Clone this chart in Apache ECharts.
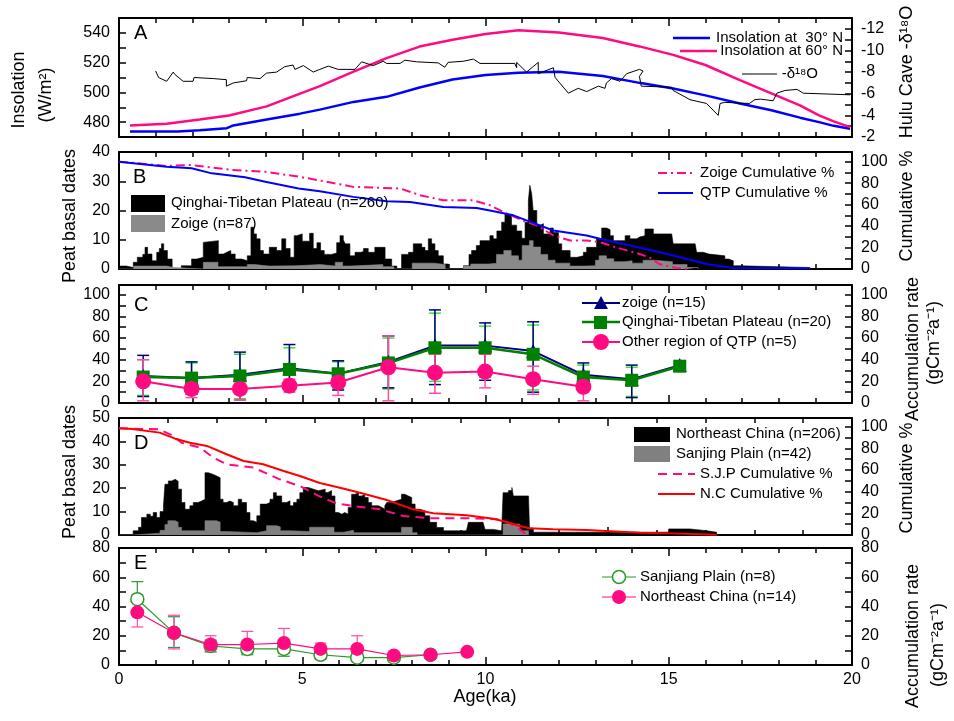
<!DOCTYPE html>
<html><head><meta charset="utf-8">
<script src="https://cdn.jsdelivr.net/npm/echarts/dist/echarts.min.js"></script>
<style>html,body{margin:0;padding:0;background:#fff}#c{width:954px;height:721px}</style>
</head><body><div id="c"></div>
<script>
// ---------------- DATA ----------------
// Panel A: insolation (W/m2) and Hulu cave -d18O
const insol30N = [[0.3,473.7],[1.6,473.7],[2.2,474.5],[2.94,475.9],[3.12,477.8],[4.03,481.8],[4.94,485.7],[5.48,488.4],[6.4,493.6],[7.3,497],[8.2,503.3],[9.1,508.7],[10.0,511.7],[10.9,513.2],[12.0,513.9],[13.2,511],[14.2,506.4],[15.12,502.6],[16.0,498],[16.94,492.5],[17.8,488],[18.58,483],[19.1,480],[19.5,477.5],[19.95,475.5]];
const insol60N = [[0.3,477.8],[1.3,478.9],[2.2,481.8],[3.0,484.5],[4.03,490.6],[4.94,499.2],[5.48,504.2],[6.4,513.9],[7.3,523],[8.2,530.8],[9.1,535.4],[10.0,539.2],[10.9,541.7],[12.0,540.3],[13.2,536.5],[14.2,530.9],[15.12,525.2],[16.0,518.4],[16.94,508.3],[17.8,499.3],[18.58,491.3],[19.1,484.5],[19.5,480.5],[19.95,476.6]];
const huluD18O = [[1.0,-8.1],[1.08,-7.5],[1.3,-7.15],[1.48,-8.0],[1.52,-7.8],[1.75,-7.15],[2.02,-7.15],[2.05,-7.5],[2.57,-7.4],[2.93,-7.3],[2.93,-6.7],[3.12,-7.0],[3.48,-7.2],[3.5,-7.5],[3.85,-7.4],[4.02,-7.9],[4.3,-8.0],[4.52,-8.5],[4.75,-8.65],[4.8,-8.25],[5.03,-8.6],[5.3,-8.0],[5.48,-8.25],[5.71,-8.55],[5.98,-8.25],[6.44,-8.25],[6.62,-8.95],[6.94,-8.6],[7.21,-9.0],[7.3,-8.8],[7.67,-8.8],[7.8,-9.1],[8.12,-8.95],[8.12,-8.8],[8.71,-8.85],[8.89,-8.45],[8.98,-8.9],[9.39,-9.0],[9.67,-9.2],[9.85,-8.8],[10.8,-8.8],[10.85,-8.4],[10.85,-8.9],[11.12,-8.0],[11.44,-8.9],[11.44,-7.85],[11.85,-8.4],[11.9,-7.5],[12.26,-6.05],[12.53,-6.5],[12.76,-6.2],[13.08,-6.7],[13.26,-6.5],[13.3,-7.0],[13.44,-7.4],[13.67,-7.15],[13.85,-7.85],[14.2,-8.25],[14.3,-8.1],[14.2,-7.6],[14.25,-6.7],[15.08,-6.6],[15.12,-6.3],[15.58,-5.45],[16.03,-5.1],[16.35,-4.0],[16.4,-5.1],[16.53,-5.2],[17.2,-5.1],[17.35,-5.45],[17.5,-5.5],[17.85,-5.35],[17.95,-6.05],[18.17,-6.3],[18.5,-6.4],[18.67,-6.05],[19.95,-5.9]];

// Panel B: peat basal dates (counts) and cumulative %
const qtpDates = [[0,1],[0.2,0.5],[0.39,2.3],[0.5,4],[0.65,5],[0.71,7.4],[0.78,5.1],[0.9,2.8],[1.03,5.7],[1.1,7],[1.16,8.6],[1.22,6.3],[1.32,3.4],[1.45,0],[1.7,1.1],[1.98,3.4],[2.12,4],[2.3,9.1],[2.35,9.7],[2.71,5.1],[2.85,5.7],[2.94,6.3],[3.05,5.1],[3.17,3.4],[3.35,2.8],[3.5,4.5],[3.6,14.3],[3.68,12],[3.75,10.3],[3.85,6.3],[3.94,5.1],[4.1,7.4],[4.3,6.3],[4.44,10.3],[4.55,7],[4.67,4],[4.78,11.4],[4.85,12],[5.0,9.5],[5.2,12.2],[5.3,7],[5.4,9],[5.5,6.3],[5.6,5],[5.8,5.5],[5.94,9],[6.03,11.4],[6.12,10],[6.17,8.6],[6.3,4.5],[6.44,5.7],[6.6,6],[6.67,7],[6.8,5.7],[6.98,7.4],[7.17,7.4],[7.26,3.4],[7.44,1],[7.58,0],[7.71,5],[7.9,5.7],[8.03,8.6],[8.17,8.6],[8.26,7.4],[8.35,6.3],[8.44,10.3],[8.53,8.6],[8.62,6.3],[8.71,4.5],[8.85,1.7],[8.99,0],[9.4,1.1],[9.55,5],[9.62,6.3],[9.75,8],[9.85,9.7],[10.12,11.4],[10.21,10.3],[10.31,13],[10.44,16],[10.53,18.9],[10.58,18.3],[10.71,15],[10.85,13],[10.99,10.5],[11.08,16],[11.17,23.4],[11.21,28.6],[11.26,25.7],[11.3,20],[11.4,15],[11.49,15.5],[11.58,12],[11.76,14],[11.85,12.5],[11.99,8.6],[12.08,6.3],[12.31,4],[12.5,4.5],[12.67,5.7],[12.76,7.4],[13.03,10.3],[13.17,14],[13.31,13.4],[13.4,11.4],[13.49,9.7],[13.67,9.7],[13.81,11.4],[13.94,10.3],[14.13,10.9],[14.2,11.4],[14.35,13.7],[14.58,12],[15.08,12.5],[15.12,8.6],[15.72,8.6],[15.76,5.7],[15.94,5.1],[16.1,4.5],[16.53,3.4],[16.63,2.8],[16.76,1.1],[16.94,0.5],[18.85,0.5],[18.86,0]];
const zoigeDates = [[0,0],[0.4,1],[1.3,0.5],[1.5,0],[2.3,2.3],[2.7,0.8],[3.5,1.5],[3.7,1],[4.1,1.1],[4.8,1.5],[5.5,1],[5.9,2.3],[6.1,1],[6.3,1.5],[7.2,0.8],[7.5,0],[8.0,2],[8.6,1.5],[8.9,0],[9.4,1],[9.6,1.7],[10.1,2],[10.3,5],[10.5,6.3],[10.7,4.5],[10.9,3],[11.0,8],[11.2,9.7],[11.3,7.5],[11.5,5],[11.7,3],[11.9,2],[12.3,1],[12.7,1.1],[13.0,3],[13.1,4.5],[13.3,3.5],[13.5,2.5],[13.8,2.8],[14.0,2],[14.3,3],[14.6,2.5],[15.1,1.5],[15.5,0.5],[15.8,0]];
const qtpCum = [[0,100],[1.3,95.3],[1.98,93.8],[2.53,89.1],[3.44,85.4],[3.99,81.3],[4.9,75],[5.48,72.5],[6.39,67.2],[7.3,63.1],[7.94,62.5],[8.85,57.8],[9.76,56.9],[10.12,54.5],[10.76,50],[11.12,45.3],[11.85,35.9],[12.76,31.2],[13.12,28.1],[14.2,20],[15.12,12.5],[16.03,4.7],[16.76,0.9],[18.85,0.6]];
const zoigeCum = [[0,100],[1.3,96],[1.98,96.9],[3.08,92.2],[3.99,90.6],[4.9,86],[5.48,82.5],[6.39,76.5],[7.67,75],[8.21,68.8],[8.85,64],[9.67,64],[10.12,59.4],[10.58,51.6],[11.12,43.7],[11.4,40.6],[11.85,31.2],[12.31,26.5],[12.76,26.5],[13.12,25],[13.49,20.9],[14.2,14],[14.47,10.9],[14.74,4.7],[15.2,0.9],[15.56,0]];

// Panel C: accumulation rate, Qinghai-Tibetan Plateau
const cAges = [0.66,1.98,3.3,4.65,5.98,7.35,8.62,9.99,11.3,12.67,13.99,15.3];
const zoigeAcc = [25,23,26,32,27,38,53,53,48,26,22,35];
const zoigeLo  = [6,8,3,17,12,14,17,21,10,13,5,null];
const zoigeHi  = [44,38,47,54,39,62,86,74,75,37,35,null];
const qtpAcc = [24,23,25,31,27,37,51,51,45,24,21,34];
const qtpLo  = [7,9,4,18,13,13,20,24,12,14,6,null];
const qtpHi  = [40,37,45,51,38,60,83,71,72,35,33,null];
const otherAcc = [20,13,13,16,19,33,28,29,22,15];
const otherLo  = [2,5,3,10,7,2,9,14,8,2];
const otherHi  = [40,22,23,22,30,62,45,45,34,25];

// Panel D: Northeast China (age axis 0-15 ka)
const neDates = [[0,0],[0.29,1.8],[0.4,3.3],[0.46,7.5],[0.57,8.9],[0.64,8],[0.7,9.6],[0.77,7.5],[0.84,10],[0.91,12.5],[0.94,21.7],[1.01,23.1],[1.08,23.8],[1.15,23],[1.21,19.6],[1.28,13.9],[1.35,11],[1.45,12.5],[1.52,13.9],[1.62,14.5],[1.69,15.3],[1.76,26.6],[1.83,25.9],[1.93,25.2],[2.0,24.5],[2.07,15.3],[2.13,13.9],[2.2,14.5],[2.27,13.9],[2.34,12.5],[2.44,15.3],[2.51,13.9],[2.61,9.6],[2.68,6.1],[2.75,5.4],[2.82,8.2],[2.89,13.2],[3.02,13.9],[3.09,15.3],[3.16,18.1],[3.22,16.7],[3.33,13.9],[3.43,14.6],[3.5,12.5],[3.57,13.9],[3.64,15.3],[3.7,18.1],[3.77,20.3],[3.87,19.6],[3.98,18.9],[4.08,19.6],[4.22,18.2],[4.28,19],[4.35,16.7],[4.42,9.6],[4.49,8.9],[4.56,9.6],[4.62,8.9],[4.69,11.8],[4.76,17.4],[4.83,18.1],[4.9,16.7],[4.97,17.4],[5.03,16],[5.1,13.9],[5.17,12.5],[5.31,11.8],[5.38,11],[5.44,12.5],[5.48,13.9],[5.58,14.6],[5.68,15.3],[5.78,17.4],[5.85,16.7],[5.92,16],[5.99,13.2],[6.06,11],[6.16,10.4],[6.26,8.2],[6.36,5.4],[6.5,3.2],[6.64,1.8],[7.11,1.8],[7.15,5.4],[7.45,5.4],[7.49,2.4],[7.66,1.8],[7.83,2.4],[7.86,18.1],[7.97,19],[8.04,20.3],[8.07,16.7],[8.38,16.7],[8.4,3],[8.48,1.2],[11.24,1.2],[11.25,2.6],[11.68,2.6],[11.7,1.8],[12.03,1.2],[12.23,0]];
const sjpDates = [[0,0],[0.29,0.8],[0.84,2],[0.94,4.5],[1.0,6.1],[1.15,5.5],[1.21,3.3],[1.28,1.8],[1.76,6.1],[2.0,5.5],[2.07,1.5],[2.2,1],[2.82,1.8],[3.02,4],[3.22,3.5],[3.3,1.8],[3.5,1.5],[3.9,3.3],[4.4,1.2],[4.6,2],[4.8,1],[5.68,1],[5.78,3.3],[6.0,1],[6.1,0],[7.86,4.7],[8.2,1.8],[8.38,0]];
const sjpCum = [[0,98.5],[0.83,97.5],[1.11,91.4],[1.28,85.2],[1.66,80.6],[1.93,71.4],[2.2,65.3],[2.75,62.2],[3.29,51.4],[3.7,45.2],[4.11,35.5],[4.45,29.2],[4.79,26.8],[5.34,23.7],[5.82,17.5],[6.36,15.4],[7.25,15.4],[7.73,14.5],[8.0,10.8],[8.2,5.2],[8.34,0]];
const neCum = [[0,98.5],[0.27,97.8],[0.83,94.5],[1.15,88.9],[1.45,85.2],[1.8,82.2],[2.2,74.5],[2.55,68.3],[2.95,65.3],[3.37,59.1],[3.7,54.5],[4.11,48],[4.52,43.7],[4.93,39],[5.48,32.3],[6.02,23.7],[6.43,20],[7.11,18.2],[7.66,15],[7.93,12],[8.2,8.3],[8.4,6.2],[8.88,5.2],[9.57,4.6],[10.66,2.1],[11.3,1.5],[12.23,0.2]];

// Panel E: accumulation rate, Northeast China
const sanjiangAges = [0.5,1.5,2.5,3.5,4.5,5.5,6.5,7.5,8.5];
const sanjiangAcc = [45,22,13,11,11,7,5,5,7];
const sanjiangLo  = [36,12,9,7,6,4,3,3,5];
const sanjiangHi  = [57,33,17,16,17,10,8,7,9];
const neAges = [0.5,1.5,2.5,3.5,4.5,5.5,6.5,7.5,8.5,9.5];
const neAcc = [36,22,14,14,15,11,11,6.5,7,9];
const neLo  = [26,11,9,8,8,7,3,4,5,7];
const neHi  = [48,34,20,23,25,15,20,8,9,10];

const xTickLabels = [0,5,10,15,20];

// ---------------- CHART ----------------
const FONT = '"Liberation Sans", Arial, sans-serif';
const L = 119, W = 733;
const gridBoxes = [[18,119],[152,117],[285,118],[418,117],[548,117]];
const grid = gridBoxes.map(b => ({left:L, width:W, top:b[0], height:b[1]}));

const lineAx = {show:true, onZero:false, lineStyle:{color:'#000', width:2}};
const tickAx = {show:true, inside:true, length:7, lineStyle:{color:'#000', width:1.5}};
function xAx(gi, pos, max, showLabel){
  return {type:'value', gridIndex:gi, position:pos, min:0, max:max, interval:5,
    axisLine:lineAx, axisTick:Object.assign({}, tickAx, {length:8}),
    minorTick:{show:true, splitNumber:5, length:5, lineStyle:{color:'#000', width:1.5}},
    splitLine:{show:false}, minorSplitLine:{show:false},
    axisLabel:{show:showLabel, color:'#000', fontSize:16, fontFamily:FONT, margin:7,
      formatter: v => xTickLabels.includes(v) ? String(v) : ''}};
}
function yAx(gi, pos, min, max, interval, every, inverse, showLabel){
  return {type:'value', gridIndex:gi, position:pos, min:min, max:max, interval:interval, inverse:!!inverse,
    axisLine:lineAx, axisTick:tickAx, splitLine:{show:false},
    axisLabel:{show:showLabel!==false, color:'#000', fontSize:16, fontFamily:FONT, margin:9,
      formatter: v => (Math.abs(Math.round(v) - v) < 1e-6 && Math.round(v) % every === 0) ? String(Math.round(v)) : ''}};
}
const xAxis = [], yAxis = [];
for (let g = 0; g < 5; g++){
  const mx = g === 3 ? 15 : 20;
  xAxis.push(xAx(g, 'bottom', mx, g === 4));
  xAxis.push(xAx(g, 'top', mx, false));
}
yAxis.push(yAx(0,'left',470,550,10,20));
yAxis.push(yAx(0,'right',-13,-2,1,2,true));
yAxis.push(yAx(1,'left',0,40,10,10));
yAxis.push(yAx(1,'right',0,109,10,20));
yAxis.push(yAx(2,'left',0,109,10,20));
yAxis.push(yAx(2,'right',0,109,10,20));
yAxis.push(yAx(3,'left',0,50,10,10));
yAxis.push(yAx(3,'right',0,108,10,20));
yAxis.push(yAx(4,'left',0,80,10,20));
yAxis.push(yAx(4,'right',0,80,10,20));

function ln(g, side, data, color, width, opts){
  return Object.assign({type:'line', xAxisIndex:2*g, yAxisIndex:2*g+(side==='right'?1:0), data:data,
    symbol:'none', lineStyle:{color:color, width:width}, z:5, silent:true}, opts||{});
}
function stepArea(g, data, color, z){
  return {type:'line', xAxisIndex:2*g, yAxisIndex:2*g, data:data, step:'end', symbol:'none',
    lineStyle:{width:0.6, color:color}, areaStyle:{color:color, opacity:1}, z:z, silent:true};
}
function pts(xs, ys){ return xs.map((x,i)=>[x, ys[i]]); }
function errSeries(g, xs, lo, hi, color, width, z){
  const data = xs.map((x,i)=>[x, lo[i], hi[i]]).filter(d => d[1] != null);
  return {type:'custom', xAxisIndex:2*g, yAxisIndex:2*g, data:data, z:z, silent:true,
    encode:{x:0, y:[1,2]},
    renderItem:(p, api) => {
      const x = api.value(0);
      const a = api.coord([x, api.value(1)]), b = api.coord([x, api.value(2)]);
      const h = 6, st = {stroke:color, lineWidth:width};
      return {type:'group', children:[
        {type:'line', shape:{x1:a[0], y1:a[1], x2:b[0], y2:b[1]}, style:st},
        {type:'line', shape:{x1:a[0]-h, y1:a[1], x2:a[0]+h, y2:a[1]}, style:st},
        {type:'line', shape:{x1:b[0]-h, y1:b[1], x2:b[0]+h, y2:b[1]}, style:st}]};
    }};
}

const PINK = '#ff0a80', BLUE = '#0000ff', NAVY = '#00007f', GREEN = '#008000';
const series = [
  // A
  ln(0,'left',insol30N,BLUE,2.5),
  ln(0,'left',insol60N,PINK,2.5),
  ln(0,'right',huluD18O,'#000',1),
  // B
  stepArea(1, qtpDates, '#000', 2),
  stepArea(1, zoigeDates, '#8a8a8a', 3),
  ln(1,'right',zoigeCum,PINK,2,{lineStyle:{color:PINK,width:2,type:[9,4,2,4]}}),
  ln(1,'right',qtpCum,BLUE,2),
  // C
  errSeries(2, cAges, qtpLo, qtpHi, '#33e633', 1.5, 3),
  errSeries(2, cAges, zoigeLo, zoigeHi, NAVY, 1.5, 4),
  errSeries(2, cAges.slice(0,10), otherLo, otherHi, '#ff4da6', 1.5, 4),
  ln(2,'left',pts(cAges,zoigeAcc),NAVY,2,{symbol:'triangle',symbolSize:14,itemStyle:{color:NAVY},z:6}),
  ln(2,'left',pts(cAges,qtpAcc),GREEN,2.5,{symbol:'rect',symbolSize:13,itemStyle:{color:GREEN},z:7}),
  ln(2,'left',pts(cAges.slice(0,10),otherAcc),PINK,2,{symbol:'circle',symbolSize:16,itemStyle:{color:PINK},z:8}),
  // D
  stepArea(3, neDates, '#000', 2),
  stepArea(3, sjpDates, '#808080', 3),
  ln(3,'right',sjpCum,PINK,2,{lineStyle:{color:PINK,width:2,type:[9,6]}}),
  ln(3,'right',neCum,'#ff0000',2),
  // E
  errSeries(4, sanjiangAges, sanjiangLo, sanjiangHi, '#2a9a2a', 1.2, 3),
  errSeries(4, neAges, neLo, neHi, '#ff4da6', 1.2, 4),
  ln(4,'left',pts(sanjiangAges,sanjiangAcc),'#2a9a2a',1.2,{symbol:'circle',symbolSize:13,itemStyle:{color:'#fff',borderColor:'#2a9a2a',borderWidth:1.5},z:6}),
  ln(4,'left',pts(neAges,neAcc),PINK,1.2,{symbol:'circle',symbolSize:14,itemStyle:{color:PINK},z:7}),
];

// ---------- graphic: texts and legends ----------
function T(x, y, text, size, align, rot){
  return {type:'text', x:x, y:y, rotation:rot||0, z:100, silent:true,
    style:{text:text, font:size+'px '+FONT, fill:'#000', textAlign:align||'left', align:align||'left',
      textVerticalAlign:'middle', verticalAlign:'middle'}};
}
function HL(x1, x2, y, color, width, dash){
  return {type:'line', z:100, silent:true, shape:{x1:x1,y1:y,x2:x2,y2:y}, style:{stroke:color, lineWidth:width, lineDash:dash||null}};
}
function R(x, y, w, h, color){ return {type:'rect', z:100, silent:true, shape:{x:x,y:y,width:w,height:h}, style:{fill:color}}; }
function Cc(cx, cy, r, fill, stroke){ return {type:'circle', z:101, silent:true, shape:{cx:cx,cy:cy,r:r}, style:{fill:fill, stroke:stroke||null, lineWidth:1.5}}; }
const UP = Math.PI/2;
const graphic = [
  // panel letters
  T(134,33,'A',20), T(133,177,'B',20), T(134,305,'C',20), T(134,443,'D',20), T(134,563,'E',20),
  // axis titles
  T(19,90,'Insolation',18,'center',UP), T(46,95,'(W/m²)',18,'center',UP),
  T(70,216,'Peat basal dates',18,'center',UP), T(70,472,'Peat basal dates',18,'center',UP),
  T(907,72,'Hulu Cave -δ¹⁸O',18,'center',UP), T(907,206,'Cumulative %',18,'center',UP),
  T(913,349,'Accumulation rate',18,'center',UP), T(934,343,'(gCm⁻²a⁻¹)',18,'center',UP),
  T(907,478,'Cumulative %',18,'center',UP),
  T(913,636,'Accumulation rate',18,'center',UP), T(938,645,'(gCm⁻²a⁻¹)',18,'center',UP),
  T(485,697,'Age(ka)',18,'center'),
  // legend A
  HL(673,710,38,BLUE,2.5), T(843,38,'Insolation at  30° N',15,'right'),
  HL(680,717,51,PINK,2.5), T(843,51,'Insolation at 60° N',15,'right'),
  HL(742,777,74,'#000',1), T(818,74,'-δ¹⁸O',15,'right'),
  // legend B
  HL(658,693,173,PINK,2,[9,4,2,4]), T(700,173,'Zoige Cumulative %',15),
  HL(658,693,193,BLUE,2), T(700,193,'QTP Cumulative %',15),
  R(131,195,34,17,'#000'), T(171,203,'Qinghai-Tibetan Plateau (n=260)',15),
  R(131,215,34,17,'#8a8a8a'), T(171,224,'Zoige (n=87)',15),
  // legend C
  HL(582,620,303,NAVY,2), {type:'polygon', z:101, silent:true, shape:{points:[[601,296],[608,309],[594,309]]}, style:{fill:NAVY}}, T(622,303,'zoige (n=15)',15),
  HL(582,620,322,GREEN,2.5), R(594,316,13,13,GREEN), T(622,322,'Qinghai-Tibetan Plateau (n=20)',15),
  HL(582,620,342,PINK,2), Cc(601,342,8,PINK), T(622,342,'Other region of QTP (n=5)',15),
  // legend D
  R(634,427,36,15,'#000'), T(676,434,'Northeast China (n=206)',15),
  R(634,446,36,16,'#808080'), T(676,454,'Sanjing Plain (n=42)',15),
  HL(658,695,474,PINK,2,[9,6]), T(700,474,'S.J.P Cumulative %',15),
  HL(658,695,494,'#ff0000',2), T(700,494,'N.C Cumulative %',15),
  // legend E
  HL(602,636,577,'#2a9a2a',1.2), Cc(619,577,6.5,'#fff','#2a9a2a'), T(640,577,'Sanjiang Plain (n=8)',15),
  HL(602,636,597,PINK,1.2), Cc(619,597,7,PINK), T(640,597,'Northeast China (n=14)',15),
];

const chart = echarts.init(document.getElementById('c'), null, {renderer:'canvas'});
chart.setOption({animation:false, backgroundColor:'#fff', grid:grid, xAxis:xAxis, yAxis:yAxis, series:series, graphic:graphic,
  textStyle:{fontFamily:FONT}});
</script></body></html>
